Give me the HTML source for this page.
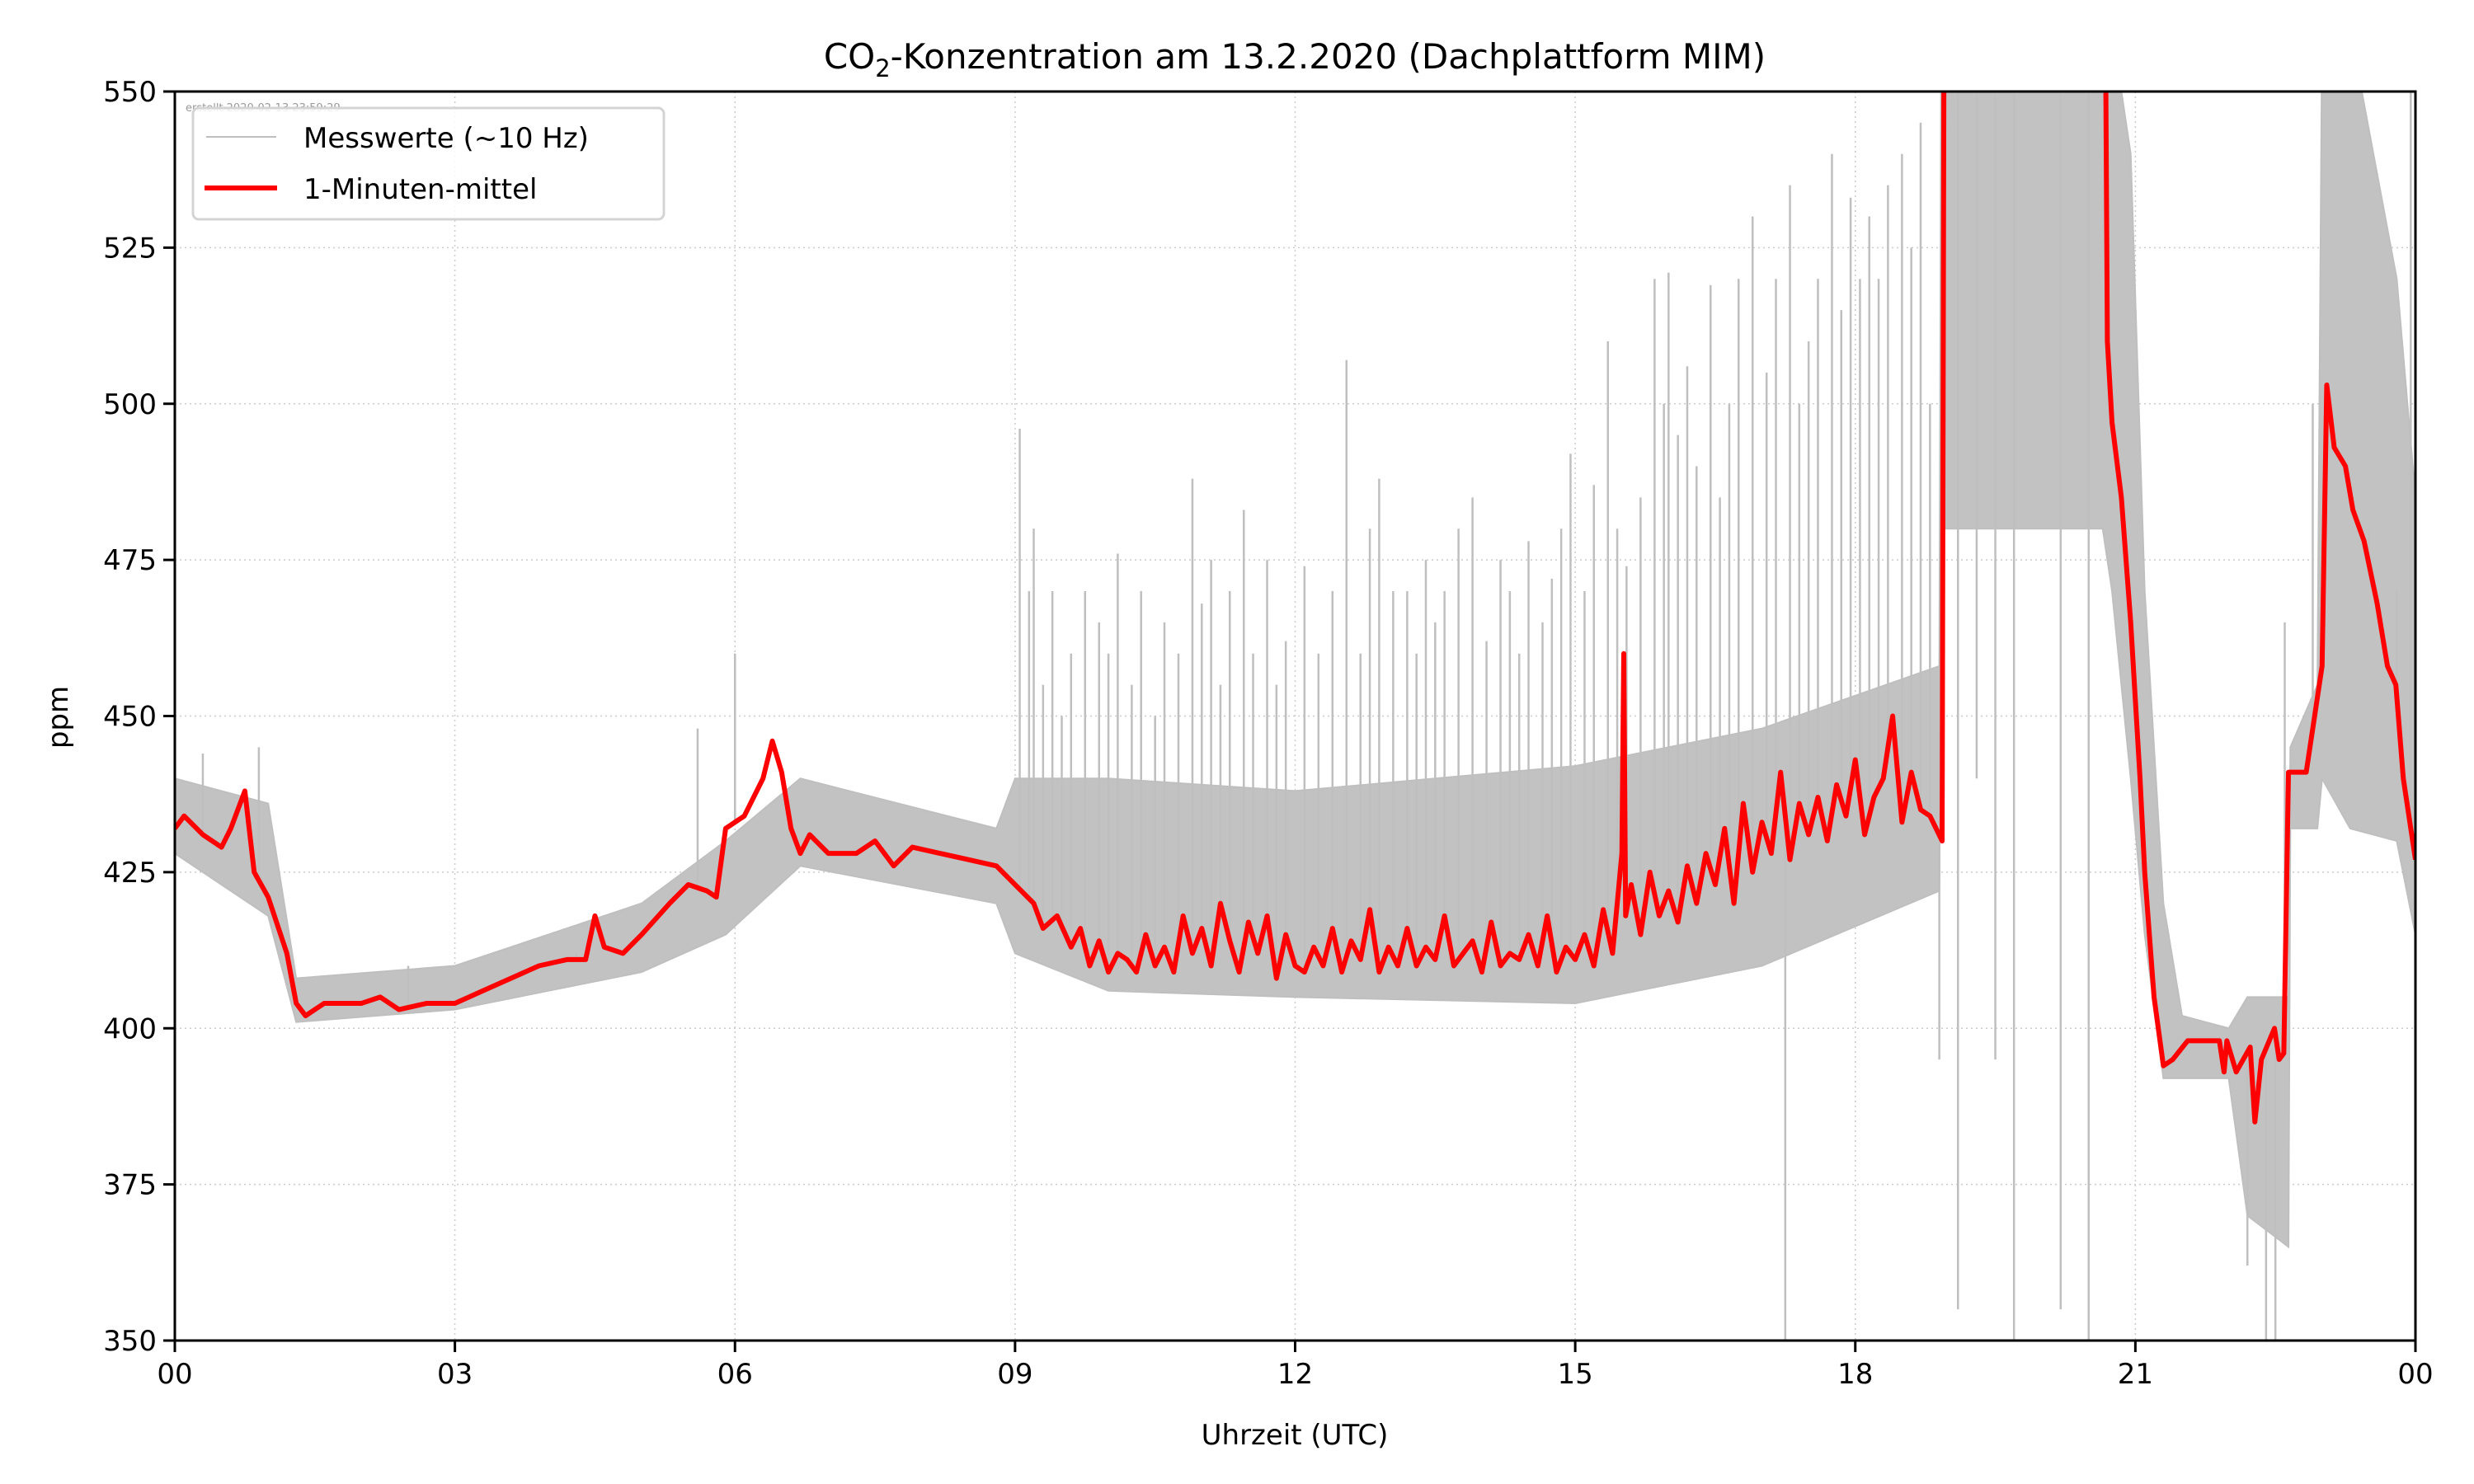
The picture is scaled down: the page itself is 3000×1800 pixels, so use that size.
<!DOCTYPE html>
<html><head><meta charset="utf-8"><style>
html,body{margin:0;padding:0;background:#fff;}
svg{display:block;font-family:"DejaVu Sans","Liberation Sans",sans-serif;}
</style></head><body>
<svg id="chart" width="3000" height="1800" viewBox="0 0 3000 1800" xmlns="http://www.w3.org/2000/svg">
<defs><clipPath id="plotclip"><rect x="212" y="111" width="2717" height="1515"/></clipPath></defs>
<rect width="3000" height="1800" fill="#fff"/>
<text x="1570" y="83" text-anchor="middle" font-size="42">CO<tspan font-size="29" dy="10">2</tspan><tspan dy="-10">-Konzentration am 13.2.2020 (Dachplattform MIM)</tspan></text>
<g id="grid"></g>
<g id="gray" clip-path="url(#plotclip)"></g>
<g id="red" clip-path="url(#plotclip)"></g>
<rect x="212" y="111" width="2717" height="1515" fill="none" stroke="#000" stroke-width="3"/>
<g id="ticks"></g>
<text x="1570" y="1752" text-anchor="middle" font-size="34">Uhrzeit (UTC)</text>
<text x="82" y="870" text-anchor="middle" font-size="34" transform="rotate(-90 82 870)">ppm</text>
<text x="225" y="135" font-size="13" fill="#999">erstellt 2020-02-13 23:59:29</text>
<g>
<rect x="234" y="131" width="571" height="135" rx="7" fill="#fff" fill-opacity="0.85" stroke="#d4d4d4" stroke-width="3"/>
<line x1="250" y1="166" x2="335" y2="166" stroke="#bfbfbf" stroke-width="2"/>
<text x="368" y="179" font-size="34">Messwerte (~10 Hz)</text>
<line x1="248" y1="228" x2="336" y2="228" stroke="#f00" stroke-width="6"/>
<text x="368" y="241" font-size="34">1-Minuten-mittel</text>
</g>
</svg>
<script>
const xTicks=[0,3,6,9,12,15,18,21,24];
const xTickLabels=["00","03","06","09","12","15","18","21","00"];
const yTicks=[350,375,400,425,450,475,500,525,550];
const meanHours=[0,0.1,0.3,0.5,0.6,0.75,0.85,1.0,1.2,1.3,1.4,1.6,1.8,2.0,2.2,2.4,2.7,3.0,3.3,3.6,3.9,4.2,4.4,4.5,4.6,4.8,5.0,5.3,5.5,5.7,5.8,5.9,6.1,6.3,6.4,6.5,6.6,6.7,6.8,7.0,7.3,7.5,7.7,7.9,8.2,8.5,8.8,9.0,9.2,9.3,9.45,9.6,9.7,9.8,9.9,10.0,10.1,10.2,10.3,10.4,10.5,10.6,10.7,10.8,10.9,11.0,11.1,11.2,11.3,11.4,11.5,11.6,11.7,11.8,11.9,12.0,12.1,12.2,12.3,12.4,12.5,12.6,12.7,12.8,12.9,13.0,13.1,13.2,13.3,13.4,13.5,13.6,13.7,13.8,13.9,14.0,14.1,14.2,14.3,14.4,14.5,14.6,14.7,14.8,14.9,15.0,15.1,15.2,15.3,15.4,15.5,15.52,15.54,15.6,15.7,15.8,15.9,16.0,16.1,16.2,16.3,16.4,16.5,16.6,16.7,16.8,16.9,17.0,17.1,17.2,17.3,17.4,17.5,17.6,17.7,17.8,17.9,18.0,18.1,18.2,18.3,18.4,18.5,18.6,18.7,18.8,18.93,18.95,20.68,20.7,20.75,20.85,20.95,21.05,21.1,21.2,21.3,21.4,21.56,21.9,21.95,21.98,22.08,22.23,22.28,22.35,22.49,22.54,22.59,22.64,22.83,22.9,23.0,23.05,23.13,23.25,23.33,23.45,23.59,23.7,23.79,23.87,24.0];
const meanValues=[432,434,431,429,432,438,425,421,412,404,402,404,404,404,405,403,404,404,406,408,410,411,411,418,413,412,415,420,423,422,421,432,434,440,446,441,432,428,431,428,428,430,426,429,428,427,426,423,420,416,418,413,416,410,414,409,412,411,409,415,410,413,409,418,412,416,410,420,414,409,417,412,418,408,415,410,409,413,410,416,409,414,411,419,409,413,410,416,410,413,411,418,410,412,414,409,417,410,412,411,415,410,418,409,413,411,415,410,419,412,428,460,418,423,415,425,418,422,417,426,420,428,423,432,420,436,425,433,428,441,427,436,431,437,430,439,434,443,431,437,440,450,433,441,435,434,430,560,560,510,497,485,465,440,425,405,394,395,398,398,393,398,393,397,385,395,400,395,396,441,441,448,458,503,493,490,483,478,468,458,455,440,427];
const envHours=[0,1,1.3,3,5,5.9,6.7,8.8,9.0,10,12,15,17,18.9,18.92,20.65,20.75,20.95,21.1,21.3,21.5,22.0,22.2,22.64,22.66,22.95,23.0,23.3,23.8,24];
const envUpper=[440,436,408,410,420,430,440,432,440,440,438,442,448,458,560,560,560,540,470,420,402,400,405,405,445,455,560,560,520,485];
const envLower=[428,418,401,403,409,415,426,420,412,406,405,404,410,422,480,480,470,440,415,392,392,392,370,365,432,432,440,432,430,415];
const spikeHours=[0.3,0.9,2.5,4.3,5.6,6.0,9.05,9.15,9.2,9.3,9.4,9.5,9.6,9.75,9.9,10.0,10.1,10.25,10.35,10.5,10.6,10.75,10.9,11.0,11.1,11.2,11.3,11.45,11.55,11.7,11.8,11.9,12.1,12.25,12.4,12.55,12.7,12.8,12.9,13.05,13.2,13.3,13.4,13.5,13.6,13.75,13.9,14.05,14.2,14.3,14.4,14.5,14.65,14.75,14.85,14.95,15.1,15.2,15.35,15.45,15.55,15.7,15.85,15.95,16.0,16.1,16.2,16.3,16.45,16.55,16.65,16.75,16.9,17.05,17.15,17.25,17.3,17.4,17.5,17.6,17.75,17.85,17.95,18.05,18.15,18.25,18.35,18.5,18.6,18.7,18.8,18.9,19.7,19.1,19.3,19.5,20.2,20.5,22.2,22.4,22.5,22.6,22.9,23.5,23.8,23.95];
const spikeValues=[444,445,410,412,448,460,496,470,480,455,470,450,460,470,465,460,476,455,470,450,465,460,488,468,475,455,470,483,460,475,455,462,474,460,470,507,460,480,488,470,470,460,475,465,470,480,485,462,475,470,460,478,465,472,480,492,470,487,510,480,474,485,520,500,521,495,506,490,519,485,500,520,530,505,520,350,535,500,510,520,540,515,533,520,530,520,535,540,525,545,500,395,350,355,440,395,355,350,362,350,350,465,500,480,470];
const X0=212,X1=2929,Y0=1626,Y1=111;
function xs(h){return X0+(h/24)*(X1-X0);}
function ys(v){return Y0-(v-350)/200*(Y0-Y1);}
const NS="http://www.w3.org/2000/svg";
function mk(tag,attrs,parent){const e=document.createElementNS(NS,tag);for(const k in attrs)e.setAttribute(k,attrs[k]);parent.appendChild(e);return e;}
const grid=document.getElementById('grid'),ticks=document.getElementById('ticks');
xTicks.forEach((t,i)=>{
  const g=mk('line',{x1:xs(t),x2:xs(t),y1:Y1,y2:Y0,stroke:'#cccccc','stroke-width':1.5,'stroke-dasharray':'2,4'},grid);
  
  
  const tk=mk('line',{x1:xs(t),x2:xs(t),y1:Y0,y2:Y0+14,stroke:'#000','stroke-width':3},ticks);
  
  
  const tl=mk('text',{x:xs(t),y:Y0+52,'text-anchor':'middle','font-size':34},ticks);
  
  
  tl.textContent=xTickLabels[i];
});
yTicks.forEach(t=>{
  const g=mk('line',{x1:X0,x2:X1,y1:ys(t),y2:ys(t),stroke:'#cccccc','stroke-width':1.5,'stroke-dasharray':'2,4'},grid);
  
  
  const tk=mk('line',{x1:X0-14,x2:X0,y1:ys(t),y2:ys(t),stroke:'#000','stroke-width':3},ticks);
  
  
  const tl=mk('text',{x:X0-22,y:ys(t)+12,'text-anchor':'end','font-size':34},ticks);
  
  
  tl.textContent=t;
});
function meanAt(h){for(let i=1;i<meanHours.length;i++){if(h<=meanHours[i]){const a=meanHours[i-1],b=meanHours[i];const f=(h-a)/(b-a||1);return meanValues[i-1]+f*(meanValues[i]-meanValues[i-1]);}}return meanValues[meanValues.length-1];}
const gray=document.getElementById('gray');
let pts=envHours.map((h,i)=>xs(h)+','+ys(envUpper[i]));
for(let i=envHours.length-1;i>=0;i--)pts.push(xs(envHours[i])+','+ys(envLower[i]));
const band=mk('polygon',{points:pts.join(' '),fill:'#c2c2c2',stroke:'#bfbfbf','stroke-width':2},gray);


spikeHours.forEach((h,i)=>{
  const s=mk('line',{x1:xs(h),x2:xs(h),y1:ys(meanAt(h)),y2:ys(spikeValues[i]),stroke:'#bfbfbf','stroke-width':2.5},gray);
  
  
});
const red=document.getElementById('red');
const rl=mk('polyline',{points:meanHours.map((h,i)=>xs(h)+','+ys(meanValues[i])).join(' '),fill:'none',stroke:'#ff0000','stroke-width':6,'stroke-linejoin':'round'},red);


</script>
</body></html>
